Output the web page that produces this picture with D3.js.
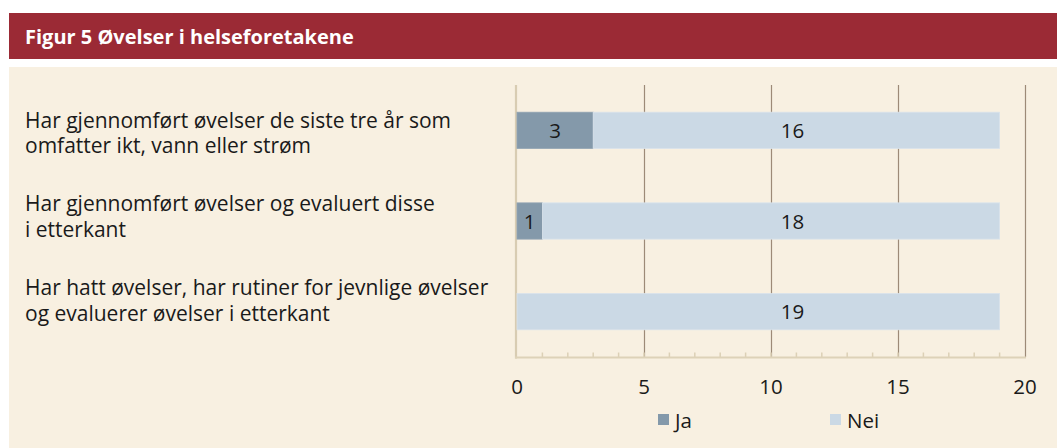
<!DOCTYPE html>
<html>
<head>
<meta charset="utf-8">
<script src="https://cdn.jsdelivr.net/npm/d3@7"></script>
<style>
  html, body { margin: 0; padding: 0; background: #ffffff; }
  svg { display: block; }
  text { font-family: "Open Sans", "Noto Sans", sans-serif; }
</style>
</head>
<body>
<script>
// ---- data ----
const title = "Figur 5 Øvelser i helseforetakene";
const categories = [
  "Har gjennomført øvelser de siste tre år som omfatter ikt, vann eller strøm",
  "Har gjennomført øvelser og evaluert disse i etterkant",
  "Har hatt øvelser, har rutiner for jevnlige øvelser og evaluerer øvelser i etterkant"
];
const categoryLines = [
  ["Har gjennomført øvelser de siste tre år som", "omfatter ikt, vann eller strøm"],
  ["Har gjennomført øvelser og evaluert disse", "i etterkant"],
  ["Har hatt øvelser, har rutiner for jevnlige øvelser", "og evaluerer øvelser i etterkant"]
];
const seriesNames = ["Ja", "Nei"];
const jaValues = [3, 1, 0];
const neiValues = [16, 18, 19];
const xTicks = [0, 5, 10, 15, 20];
const neiLabelAt = 10.85; // data position where the "Nei" labels sit

// ---- layout ----
const W = 1057, H = 448;
const colors = { Ja: "#8499aa", Nei: "#cbd9e5" };

const svg = d3.select("body").append("svg").attr("width", W).attr("height", H);

svg.append("rect").attr("x", 0).attr("y", 0).attr("width", W).attr("height", H).attr("fill", "#ffffff");
svg.append("rect").attr("x", 9).attr("y", 13).attr("width", W - 9).attr("height", 46).attr("fill", "#9b2a35");
svg.append("text").attr("x", 25).attr("y", 43.5).attr("fill", "#ffffff")
  .attr("font-weight", "bold").attr("font-size", 20).text(title);
svg.append("rect").attr("x", 9).attr("y", 67).attr("width", W - 9).attr("height", H - 67).attr("fill", "#f8f0e1");

const x = d3.scaleLinear().domain([0, 20]).range([517, 1025]);
const y = d3.scaleBand().domain(categories).range([85, 357]).paddingInner(0.6).paddingOuter(0.3);
const labelY = d3.scalePoint().domain(categories).range([127.5, 295]);

// gridlines
svg.append("g").selectAll("line").data(xTicks.filter(d => d > 0)).join("line")
  .attr("x1", d => Math.round(x(d)) + 0.5).attr("x2", d => Math.round(x(d)) + 0.5)
  .attr("y1", 85).attr("y2", 357)
  .attr("stroke", "#9d8a77").attr("stroke-width", 1.2);

// minor ticks
const minor = d3.range(1, 20);
svg.append("g").selectAll("line").data(minor).join("line")
  .attr("x1", d => x(d)).attr("x2", d => x(d))
  .attr("y1", 352.5).attr("y2", 357)
  .attr("stroke", "#dcd0b6").attr("stroke-width", 1.5);

// axes lines
svg.append("line").attr("x1", 516).attr("x2", 516).attr("y1", 85).attr("y2", 358.5)
  .attr("stroke", "#d8ccb2").attr("stroke-width", 2.2);
svg.append("line").attr("x1", 515).attr("x2", 1026).attr("y1", 357.5).attr("y2", 357.5)
  .attr("stroke", "#ddd2b8").attr("stroke-width", 2);

// bars
const stackData = categories.map((c, i) => ({ cat: c, Ja: jaValues[i], Nei: neiValues[i] }));
const stacked = d3.stack().keys(seriesNames)(stackData);
const gBars = svg.append("g");
stacked.forEach(s => {
  gBars.selectAll(null).data(s).join("rect")
    .attr("x", d => x(d[0]))
    .attr("width", d => Math.max(0, x(d[1]) - x(d[0])))
    .attr("y", d => y(d.data.cat))
    .attr("height", y.bandwidth())
    .attr("fill", colors[s.key])
    .attr("stroke", s.key === "Nei" ? "#d9e3ec" : "#91a4b3")
    .attr("stroke-width", 0.8);
});

// value labels
const gLab = svg.append("g").attr("font-size", 20.5).attr("fill", "#1a1a1a").attr("text-anchor", "middle");
stackData.forEach(d => {
  const cy = y(d.cat) + y.bandwidth() / 2 + 7.5;
  if (d.Ja > 0) {
    gLab.append("text").attr("x", x(d.Ja / 2)).attr("y", cy).text(d.Ja);
  }
  gLab.append("text").attr("x", x(neiLabelAt)).attr("y", cy).text(d.Nei);
});

// x tick labels
svg.append("g").selectAll("text").data(xTicks).join("text")
  .attr("x", d => x(d)).attr("y", 393.5)
  .attr("text-anchor", "middle").attr("font-size", 20.5).attr("fill", "#1a1a1a")
  .text(d => d);

// category labels
const gCat = svg.append("g").attr("font-size", 21).attr("fill", "#1a1a1a");
categories.forEach((c, i) => {
  const t = gCat.append("text").attr("x", 25).attr("y", labelY(c));
  categoryLines[i].forEach((ln, j) => {
    t.append("tspan").attr("x", 25).attr("dy", j === 0 ? 0 : 25.5).text(ln);
  });
});

// legend
const legendPos = [658, 830];
const gLeg = svg.append("g");
seriesNames.forEach((s, i) => {
  gLeg.append("rect").attr("x", legendPos[i]).attr("y", 414).attr("width", 11).attr("height", 11).attr("fill", colors[s]);
  gLeg.append("text").attr("x", legendPos[i] + 17).attr("y", 428)
    .attr("font-size", 20.5).attr("fill", "#1a1a1a").text(s);
});
</script>
</body>
</html>
